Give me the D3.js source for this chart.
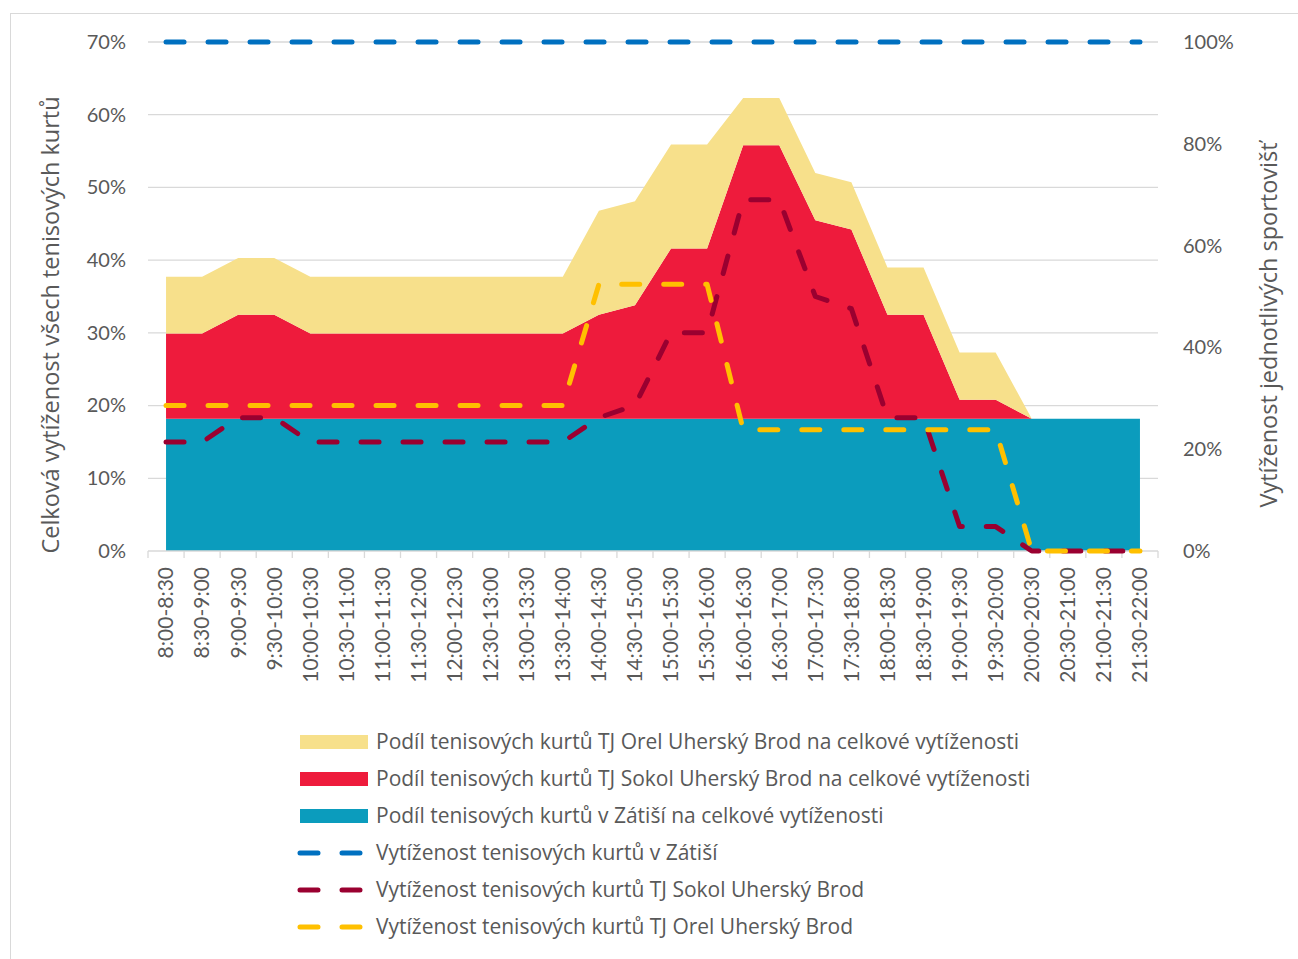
<!DOCTYPE html>
<html>
<head>
<meta charset="utf-8">
<script src="https://cdn.jsdelivr.net/npm/d3@7"></script>
<style>
  html, body { margin: 0; padding: 0; background: #fff; }
  svg text { font-family: Lato, "Liberation Sans", sans-serif; fill: #595959; }
  svg text.wide { font-family: "Open Sans", Lato, sans-serif; }
</style>
</head>
<body>
<div id="chart"></div>
<script>
// Half-hour slots
const slots = [
  "8:00-8:30", "8:30-9:00", "9:00-9:30", "9:30-10:00", "10:00-10:30",
  "10:30-11:00", "11:00-11:30", "11:30-12:00", "12:00-12:30", "12:30-13:00",
  "13:00-13:30", "13:30-14:00", "14:00-14:30", "14:30-15:00", "15:00-15:30",
  "15:30-16:00", "16:00-16:30", "16:30-17:00", "17:00-17:30", "17:30-18:00",
  "18:00-18:30", "18:30-19:00", "19:00-19:30", "19:30-20:00", "20:00-20:30",
  "20:30-21:00", "21:00-21:30", "21:30-22:00"
];

// Share of total occupancy (left axis, %) - stacked areas
const shareZatisi = [
  18.2, 18.2, 18.2, 18.2, 18.2, 18.2, 18.2, 18.2, 18.2, 18.2, 18.2, 18.2, 18.2, 18.2,
  18.2, 18.2, 18.2, 18.2, 18.2, 18.2, 18.2, 18.2, 18.2, 18.2, 18.2, 18.2, 18.2, 18.2
];
const shareSokol = [
  11.7, 11.7, 14.3, 14.3, 11.7, 11.7, 11.7, 11.7, 11.7, 11.7, 11.7, 11.7, 14.3, 15.6,
  23.4, 23.4, 37.6, 37.6, 27.3, 26.0, 14.3, 14.3, 2.6, 2.6, 0, 0, 0, 0
];
const shareOrel = [
  7.8, 7.8, 7.8, 7.8, 7.8, 7.8, 7.8, 7.8, 7.8, 7.8, 7.8, 7.8, 14.3, 14.3,
  14.3, 14.3, 6.5, 6.5, 6.5, 6.5, 6.5, 6.5, 6.5, 6.5, 0, 0, 0, 0
];

// Occupancy of single venues (right axis, %) - dashed lines
const utilZatisi = [
  100, 100, 100, 100, 100, 100, 100, 100, 100, 100, 100, 100, 100, 100,
  100, 100, 100, 100, 100, 100, 100, 100, 100, 100, 100, 100, 100, 100
];
const utilSokol = [
  21.4, 21.4, 26.2, 26.2, 21.4, 21.4, 21.4, 21.4, 21.4, 21.4, 21.4, 21.4, 26.2, 28.6,
  42.9, 42.9, 69.0, 69.0, 50.0, 47.6, 26.2, 26.2, 4.8, 4.8, 0, 0, 0, 0
];
const utilOrel = [
  28.6, 28.6, 28.6, 28.6, 28.6, 28.6, 28.6, 28.6, 28.6, 28.6, 28.6, 28.6, 52.4, 52.4,
  52.4, 52.4, 23.8, 23.8, 23.8, 23.8, 23.8, 23.8, 23.8, 23.8, 0, 0, 0, 0
];

const leftTicks = [0, 10, 20, 30, 40, 50, 60, 70];
const rightTicks = [0, 20, 40, 60, 80, 100];

const areaSeries = [
  { key: "zatisi", values: shareZatisi, color: "#0b9cbd", label: "Podíl tenisových kurtů v Zátiší na celkové vytíženosti" },
  { key: "sokol", values: shareSokol, color: "#ee1b3c", label: "Podíl tenisových kurtů TJ Sokol Uherský Brod na celkové vytíženosti" },
  { key: "orel", values: shareOrel, color: "#f7e08b", label: "Podíl tenisových kurtů TJ Orel Uherský Brod na celkové vytíženosti" }
];
const lineSeries = [
  { key: "zatisi", values: utilZatisi, color: "#0070c0", label: "Vytíženost tenisových kurtů v Zátiší" },
  { key: "sokol", values: utilSokol, color: "#9a0030", label: "Vytíženost tenisových kurtů TJ Sokol Uherský Brod" },
  { key: "orel", values: utilOrel, color: "#ffc000", label: "Vytíženost tenisových kurtů TJ Orel Uherský Brod" }
];

const W = 1298, H = 959;
const margin = { top: 42, left: 148, right: 140, bottom: 408 };
const plotW = W - margin.left - margin.right;
const plotH = H - margin.top - margin.bottom;

const svg = d3.select("#chart").append("svg")
  .attr("width", W).attr("height", H);

// outer chart border (only left/top visible in the crop)
svg.append("rect")
  .attr("x", 10.5).attr("y", 13.5)
  .attr("width", 1400).attr("height", 1000)
  .attr("fill", "none").attr("stroke", "#d9d9d9");

const g = svg.append("g").attr("transform", `translate(${margin.left},${margin.top})`);

const x = d3.scaleBand().domain(slots).range([0, plotW]);
const cx = (i) => x(slots[i]) + x.bandwidth() / 2;
const yL = d3.scaleLinear().domain([0, 70]).range([plotH, 0]);
const yR = d3.scaleLinear().domain([0, 100]).range([plotH, 0]);

// gridlines
g.append("g")
  .selectAll("line")
  .data(leftTicks.slice(1))
  .enter().append("line")
  .attr("x1", 0).attr("x2", plotW)
  .attr("y1", (d) => yL(d)).attr("y2", (d) => yL(d))
  .attr("stroke", "#d9d9d9").attr("stroke-width", 1.3);

// stacked areas
const table = slots.map((s, i) => {
  const row = { i };
  areaSeries.forEach((a) => (row[a.key] = a.values[i]));
  return row;
});
const stack = d3.stack().keys(areaSeries.map((a) => a.key))(table);
const area = d3.area()
  .x((d) => cx(d.data.i))
  .y0((d) => yL(d[0]))
  .y1((d) => yL(d[1]));

g.append("g")
  .selectAll("path")
  .data(stack)
  .enter().append("path")
  .attr("d", area)
  .attr("fill", (d, i) => areaSeries[i].color);

// x axis line + tick marks at slot boundaries
g.append("line")
  .attr("x1", 0).attr("x2", plotW)
  .attr("y1", plotH).attr("y2", plotH)
  .attr("stroke", "#d9d9d9").attr("stroke-width", 1.3);

const bounds = slots.map((s) => x(s)).concat([x.range()[1]]);
g.append("g")
  .selectAll("line")
  .data(bounds)
  .enter().append("line")
  .attr("x1", (d) => d).attr("x2", (d) => d)
  .attr("y1", plotH).attr("y2", plotH + 7)
  .attr("stroke", "#d9d9d9").attr("stroke-width", 1.3);

// x tick labels
g.append("g")
  .attr("transform", `translate(0,${plotH})`)
  .call(d3.axisBottom(x).tickSize(0))
  .call((a) => a.select(".domain").remove())
  .selectAll("text")
  .attr("transform", "rotate(-90)")
  .attr("x", -16).attr("y", 0)
  .attr("dy", ".35em")
  .style("text-anchor", "end")
  .style("font-size", "21px")
  .style("fill", "#595959");

// left axis
g.append("g")
  .call(d3.axisLeft(yL).tickValues(leftTicks).tickSize(0).tickPadding(22).tickFormat((d) => d + "%"))
  .call((a) => a.select(".domain").remove())
  .selectAll("text")
  .style("font-size", "20px")
  .style("fill", "#595959");

// right axis
g.append("g")
  .attr("transform", `translate(${plotW},0)`)
  .call(d3.axisRight(yR).tickValues(rightTicks).tickSize(0).tickPadding(25).tickFormat((d) => d + "%"))
  .call((a) => a.select(".domain").remove())
  .selectAll("text")
  .style("font-size", "20px")
  .style("fill", "#595959");

// dashed lines
const line = d3.line()
  .x((d, i) => cx(i))
  .y((d) => yR(d));

g.append("g")
  .selectAll("path")
  .data(lineSeries)
  .enter().append("path")
  .attr("d", (d) => line(d.values))
  .attr("fill", "none")
  .attr("stroke", (d) => d.color)
  .attr("stroke-width", 5)
  .attr("stroke-linecap", "round")
  .attr("stroke-linejoin", "round")
  .attr("stroke-dasharray", "18,24");

// axis titles
svg.append("text")
  .attr("class", "wide")
  .attr("transform", "translate(59,325) rotate(-90)")
  .attr("text-anchor", "middle")
  .style("font-size", "23.5px")
  .text("Celková vytíženost všech tenisových kurtů");

svg.append("text")
  .attr("class", "wide")
  .attr("transform", "translate(1277,325) rotate(-90)")
  .attr("text-anchor", "middle")
  .style("font-size", "23.5px")
  .text("Vytíženost jednotlivých sportovišť");

// legend
const legendItems = [
  { type: "area", s: areaSeries[2] },
  { type: "area", s: areaSeries[1] },
  { type: "area", s: areaSeries[0] },
  { type: "line", s: lineSeries[0] },
  { type: "line", s: lineSeries[1] },
  { type: "line", s: lineSeries[2] }
];

const legend = svg.append("g").attr("transform", "translate(300,742)");
legend.selectAll(".legend-item")
  .data(legendItems)
  .enter().append("g")
  .attr("class", "legend-item")
  .attr("transform", (d, i) => `translate(0,${i * 37})`)
  .each(function (d) {
    const item = d3.select(this);
    if (d.type === "area") {
      item.append("rect")
        .attr("x", 0).attr("y", -7)
        .attr("width", 68).attr("height", 14)
        .attr("fill", d.s.color);
    } else {
      item.append("line")
        .attr("x1", 0).attr("x2", 68)
        .attr("y1", 0).attr("y2", 0)
        .attr("stroke", d.s.color)
        .attr("stroke-width", 5)
        .attr("stroke-linecap", "round")
        .attr("stroke-dasharray", "18,24");
    }
    item.append("text")
      .attr("class", "wide")
      .attr("x", 76).attr("y", 0)
      .attr("dy", ".35em")
      .style("font-size", "21px")
      .text(d.s.label);
  });
</script>
</body>
</html>
